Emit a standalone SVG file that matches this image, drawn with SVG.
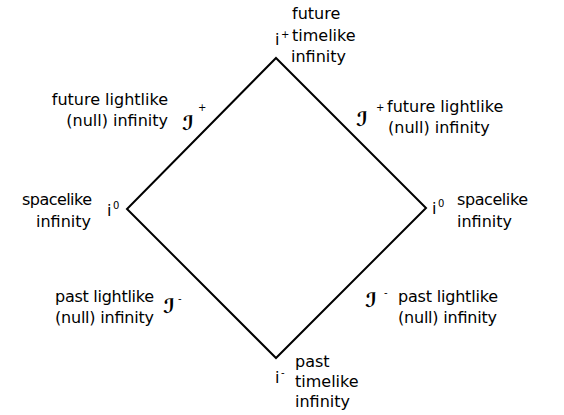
<svg xmlns="http://www.w3.org/2000/svg" width="564" height="415" viewBox="0 0 564 415">
<style>
.t{font-family:"DejaVu Sans","Liberation Sans",sans-serif;font-size:16px;fill:#000}
.s{font-family:"DejaVu Sans","Liberation Sans",sans-serif;font-size:10px;fill:#000}
.scri{font-family:"DejaVu Serif","DejaVu Sans",serif;font-size:20px;font-weight:bold;font-style:italic;fill:#000}
.r{text-anchor:end}
</style>
<rect width="564" height="415" fill="#fff"/>
<g id="connectors">
<polygon points="276,58 426,208 276,358 127,209" fill="none" stroke="#000" stroke-width="2"/>
</g>
<g id="top">
<text class="t" x="292" y="19">future</text>
<text class="t" x="292" y="41">timelike</text>
<text class="t" x="291" y="62">infinity</text>
<text class="t" x="275" y="45">i</text><text class="s" x="281" y="38">+</text>
</g>
<g id="upper-left">
<text class="t r" x="168" y="105">future lightlike</text>
<text class="t r" x="168" y="126">(null) infinity</text>
<text class="scri" x="182" y="130">ℐ</text><text class="s" x="198" y="111">+</text>
</g>
<g id="upper-right">
<text class="scri" x="356" y="126">ℐ</text><text class="s" x="376" y="111">+</text>
<text class="t" x="387" y="112">future lightlike</text>
<text class="t" x="388" y="133">(null) infinity</text>
</g>
<g id="left">
<text class="t" x="22" y="205" textLength="70">spacelike</text>
<text class="t r" x="91" y="227">infinity</text>
<text class="t" x="107" y="216">i</text><text class="s" x="113" y="209">0</text>
</g>
<g id="right">
<text class="t" x="432" y="214">i</text><text class="s" x="438" y="207">0</text>
<text class="t" x="457" y="205" textLength="71">spacelike</text>
<text class="t" x="457" y="227">infinity</text>
</g>
<g id="lower-left">
<text class="t" x="55" y="302" textLength="99">past lightlike</text>
<text class="t" x="55" y="323" textLength="99">(null) infinity</text>
<text class="scri" x="163" y="313">ℐ</text><text class="s" x="178" y="302">-</text>
</g>
<g id="lower-right">
<text class="scri" x="365" y="307">ℐ</text><text class="s" x="384" y="296">-</text>
<text class="t" x="398" y="302" textLength="100">past lightlike</text>
<text class="t" x="398" y="323" textLength="99">(null) infinity</text>
</g>
<g id="bottom">
<text class="t" x="295" y="367">past</text>
<text class="t" x="295" y="387">timelike</text>
<text class="t" x="295" y="407">infinity</text>
<text class="t" x="275" y="383">i</text><text class="s" x="281" y="376">-</text>
</g>
</svg>
